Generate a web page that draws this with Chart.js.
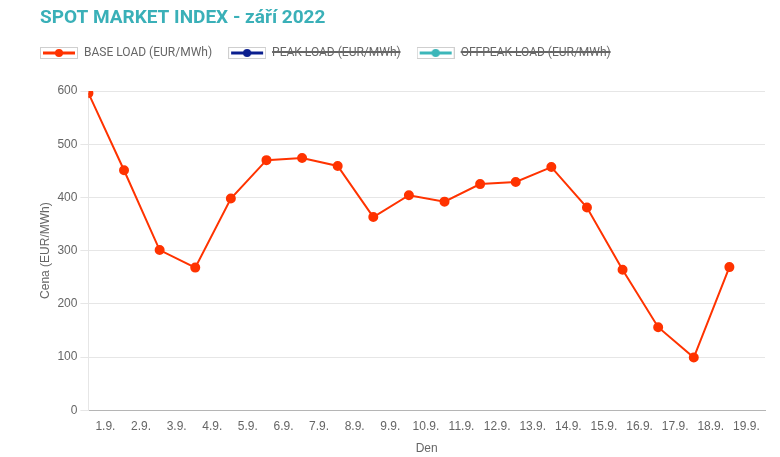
<!DOCTYPE html>
<html>
<head>
<meta charset="utf-8">
<script src="https://cdn.jsdelivr.net/npm/chart.js@4"></script>
<style>
  body { margin: 0; background: #fff; }
  #wrap { width: 780px; height: 457px; position: relative; }
</style>
</head>
<body>
<div id="wrap"><canvas id="chart"></canvas></div>
<script>
const titleText = 'SPOT MARKET INDEX - září 2022';
const days = [1, 2, 3, 4, 5, 6, 7, 8, 9, 10, 11, 12, 13, 14, 15, 16, 17, 18, 19];
const baseLoad = [596, 451, 301, 268, 398, 470, 474, 459, 363, 404, 392, 425, 429, 457, 381, 264, 156, 99, 269];
const peakLoad = [];     // hidden in the legend
const offpeakLoad = [];  // hidden in the legend
const seriesNames = ['BASE LOAD (EUR/MWh)', 'PEAK LOAD (EUR/MWh)', 'OFFPEAK LOAD (EUR/MWh)'];
const seriesColors = ['#ff3300', '#0b1f8f', '#3cb6b9'];
const yTicks = [0, 100, 200, 300, 400, 500, 600];

const font = "'Liberation Sans', Arial, sans-serif";

// small box with a line and a dot, used as the legend symbol
function legendIcon(color) {
  const c = document.createElement('canvas');
  c.width = 38;
  c.height = 12;
  const g = c.getContext('2d');
  g.strokeStyle = '#cfcfcf';
  g.lineWidth = 1;
  g.strokeRect(0.5, 0.5, 37, 11);
  g.strokeStyle = color;
  g.lineWidth = 3;
  g.beginPath();
  g.moveTo(3, 6);
  g.lineTo(35, 6);
  g.stroke();
  g.fillStyle = color;
  g.beginPath();
  g.arc(19, 6, 4, 0, Math.PI * 2);
  g.fill();
  return c;
}
const icons = seriesColors.map(legendIcon);

const toPoints = (values) => values.map((v, i) => ({ x: days[i], y: v }));

const titlePlugin = {
  id: 'pageTitle',
  afterDraw(chart) {
    const ctx = chart.ctx;
    ctx.save();
    ctx.font = "bold 19px Roboto";
    ctx.fillStyle = '#3ab0b8';
    ctx.textBaseline = 'middle';
    ctx.textAlign = 'left';
    ctx.fillText(titleText, 40, 18);
    ctx.restore();
  }
};

// extra room below the legend
const legendSpacing = {
  id: 'legendSpacing',
  beforeInit(chart) {
    const origFit = chart.legend.fit;
    chart.legend.fit = function fit() {
      origFit.bind(chart.legend)();
      this.height += 22;
    };
  }
};

const ctx = document.getElementById('chart').getContext('2d');
new Chart(ctx, {
  type: 'line',
  data: {
    datasets: [
      { label: seriesNames[0], data: toPoints(baseLoad) },
      { label: seriesNames[1], data: toPoints(peakLoad), hidden: true },
      { label: seriesNames[2], data: toPoints(offpeakLoad), hidden: true }
    ].map((ds, i) => Object.assign(ds, {
      borderColor: seriesColors[i],
      backgroundColor: seriesColors[i],
      pointBackgroundColor: seriesColors[i],
      pointBorderColor: seriesColors[i],
      borderWidth: 2,
      pointRadius: 4,
      tension: 0,
      fill: false,
      clip: 0
    }))
  },
  plugins: [titlePlugin, legendSpacing],
  options: {
    responsive: true,
    maintainAspectRatio: false,
    animation: false,
    layout: { padding: { left: 24, right: 15, top: 31, bottom: 0 } },
    plugins: {
      title: { display: false },
      tooltip: { enabled: false },
      legend: {
        position: 'top',
        align: 'start',
        labels: {
          usePointStyle: true,
          pointStyleWidth: 38,
          padding: 16,
          color: '#666',
          font: { family: 'Roboto', size: 12 },
          generateLabels(chart) {
            const items = Chart.defaults.plugins.legend.labels.generateLabels(chart);
            items.forEach((it) => { it.pointStyle = icons[it.datasetIndex]; });
            return items;
          }
        }
      }
    },
    scales: {
      x: {
        type: 'linear',
        min: 1,
        max: 20,
        grid: { display: false },
        border: { display: true, color: '#b5b5b5' },
        ticks: {
          stepSize: 1,
          labelOffset: 17,
          padding: 1,
          maxRotation: 0,
          autoSkip: false,
          color: '#666',
          font: { family: font, size: 12 },
          callback: (v) => (days.includes(v) ? v + '.9.' : null)
        },
        title: {
          display: true,
          text: 'Den',
          color: '#666',
          font: { family: font, size: 12 },
          padding: { top: 7, bottom: 1 }
        }
      },
      y: {
        min: yTicks[0],
        max: yTicks[yTicks.length - 1],
        grid: { color: '#e6e6e6' },
        border: { color: '#e6e6e6' },
        afterBuildTicks(scale) {
          scale.ticks = yTicks.map((v) => ({ value: v }));
        },
        ticks: {
          color: '#666',
          font: { family: font, size: 12 }
        },
        title: {
          display: true,
          text: 'Cena (EUR/MWh)',
          color: '#666',
          font: { family: font, size: 12 },
          padding: { top: 14, bottom: 2 }
        }
      }
    }
  }
});
</script>
</body>
</html>
